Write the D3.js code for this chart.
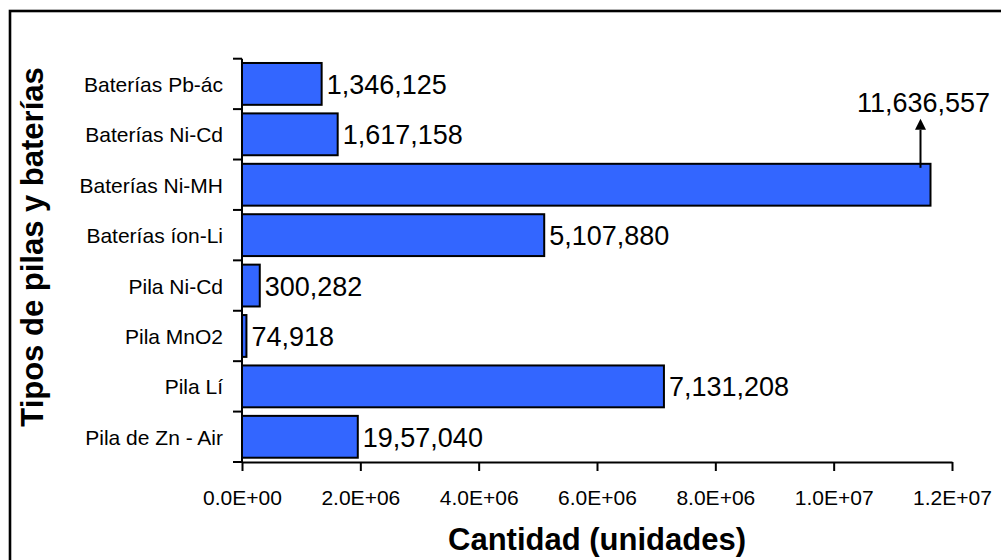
<!DOCTYPE html>
<html>
<head>
<meta charset="utf-8">
<script src="https://cdn.jsdelivr.net/npm/d3@7"></script>
<style>
  html, body { margin: 0; padding: 0; background: #fff; }
  svg { display: block; font-family: "Liberation Sans", Arial, sans-serif; }
</style>
</head>
<body>
<svg id="chart" width="1001" height="560"></svg>
<script>
// Battery and cell types, listed top to bottom
const categories = [
  "Baterías Pb-ác",
  "Baterías Ni-Cd",
  "Baterías Ni-MH",
  "Baterías íon-Li",
  "Pila Ni-Cd",
  "Pila MnO2",
  "Pila Lí",
  "Pila de Zn - Air"
];
// Quantity (units) per type
const values = [1346125, 1617158, 11636557, 5107880, 300282, 74918, 7131208, 1957040];
// Labels printed next to each bar
const valueLabels = ["1,346,125", "1,617,158", "11,636,557", "5,107,880", "300,282", "74,918", "7,131,208", "19,57,040"];
// X axis ticks and their labels
const xTicks = [0, 2e6, 4e6, 6e6, 8e6, 10e6, 12e6];
const xTickLabels = ["0.0E+00", "2.0E+06", "4.0E+06", "6.0E+06", "8.0E+06", "1.0E+07", "1.2E+07"];
// Category whose label sits above the bar with an arrow
const calloutCategory = "Baterías Ni-MH";

const svg = d3.select("#chart");

// Outer frame
svg.append("rect")
  .attr("x", 10).attr("y", 11)
  .attr("width", 1010).attr("height", 570)
  .attr("fill", "none").attr("stroke", "#000").attr("stroke-width", 2.6);

const x = d3.scaleLinear().domain([0, 12e6]).range([242, 952]);
const y = d3.scaleBand().domain(categories).range([58.7, 462])
  .paddingInner(0.17).paddingOuter(0.085);

// Bars
svg.append("g").selectAll("rect")
  .data(categories)
  .join("rect")
  .attr("x", x(0))
  .attr("y", d => y(d))
  .attr("width", (d, i) => x(values[i]) - x(0))
  .attr("height", y.bandwidth())
  .attr("fill", "#3366ff")
  .attr("stroke", "#000")
  .attr("stroke-width", 2);

// X axis
const xAxis = d3.axisBottom(x)
  .tickValues(xTicks)
  .tickFormat((d, i) => xTickLabels[i])
  .tickSizeInner(9).tickSizeOuter(0).tickPadding(0);
const gx = svg.append("g").attr("transform", "translate(0,462)").call(xAxis);
gx.select(".domain").attr("stroke", "#000").attr("stroke-width", 2);
gx.selectAll(".tick line").attr("stroke", "#000").attr("stroke-width", 2);
gx.selectAll(".tick text")
  .attr("y", 43).attr("dy", null)
  .attr("font-size", 21).attr("fill", "#000")
  .attr("font-family", "Liberation Sans, Arial, sans-serif");

// Y axis line with tick marks on category boundaries
const step = y.step();
const boundaries = d3.range(categories.length + 1).map(i => y.range()[0] + i * step);
svg.append("line")
  .attr("x1", x(0)).attr("x2", x(0))
  .attr("y1", boundaries[0]).attr("y2", boundaries[boundaries.length - 1])
  .attr("stroke", "#000").attr("stroke-width", 2);
svg.append("g").selectAll("line")
  .data(boundaries)
  .join("line")
  .attr("x1", x(0) - 9).attr("x2", x(0))
  .attr("y1", d => d).attr("y2", d => d)
  .attr("stroke", "#000").attr("stroke-width", 2);

// Category labels
svg.append("g").selectAll("text")
  .data(categories)
  .join("text")
  .attr("x", 223)
  .attr("y", d => y(d) + y.bandwidth() / 2 + 8)
  .attr("text-anchor", "end")
  .attr("font-size", 21)
  .attr("fill", "#000")
  .text(d => d);

// Value labels
svg.append("g").selectAll("text")
  .data(categories.filter(c => c !== calloutCategory))
  .join("text")
  .attr("x", d => x(values[categories.indexOf(d)]) + 5)
  .attr("y", d => y(d) + y.bandwidth() / 2 + 10)
  .attr("font-size", 27)
  .attr("fill", "#000")
  .text(d => valueLabels[categories.indexOf(d)]);

// Callout for the longest bar
const ci = categories.indexOf(calloutCategory);
const ax = x(values[ci]) - 10;
const barTop = y(calloutCategory);
svg.append("line")
  .attr("x1", ax).attr("x2", ax)
  .attr("y1", barTop + 4).attr("y2", barTop - 34)
  .attr("stroke", "#000").attr("stroke-width", 2);
svg.append("path")
  .attr("d", `M${ax},${barTop - 45} L${ax - 5.5},${barTop - 34} L${ax + 5.5},${barTop - 34} Z`)
  .attr("fill", "#000");
svg.append("text")
  .attr("x", ax + 3)
  .attr("y", barTop - 51.5)
  .attr("text-anchor", "middle")
  .attr("font-size", 27)
  .attr("fill", "#000")
  .text(valueLabels[ci]);

// Axis titles
svg.append("text")
  .attr("x", (x.range()[0] + x.range()[1]) / 2)
  .attr("y", 550)
  .attr("text-anchor", "middle")
  .attr("font-size", 31)
  .attr("font-weight", "bold")
  .attr("fill", "#000")
  .text("Cantidad (unidades)");

svg.append("text")
  .attr("transform", "translate(43,247) rotate(-90)")
  .attr("text-anchor", "middle")
  .attr("font-size", 31)
  .attr("font-weight", "bold")
  .attr("fill", "#000")
  .text("Tipos de pilas y baterías");
</script>
</body>
</html>
